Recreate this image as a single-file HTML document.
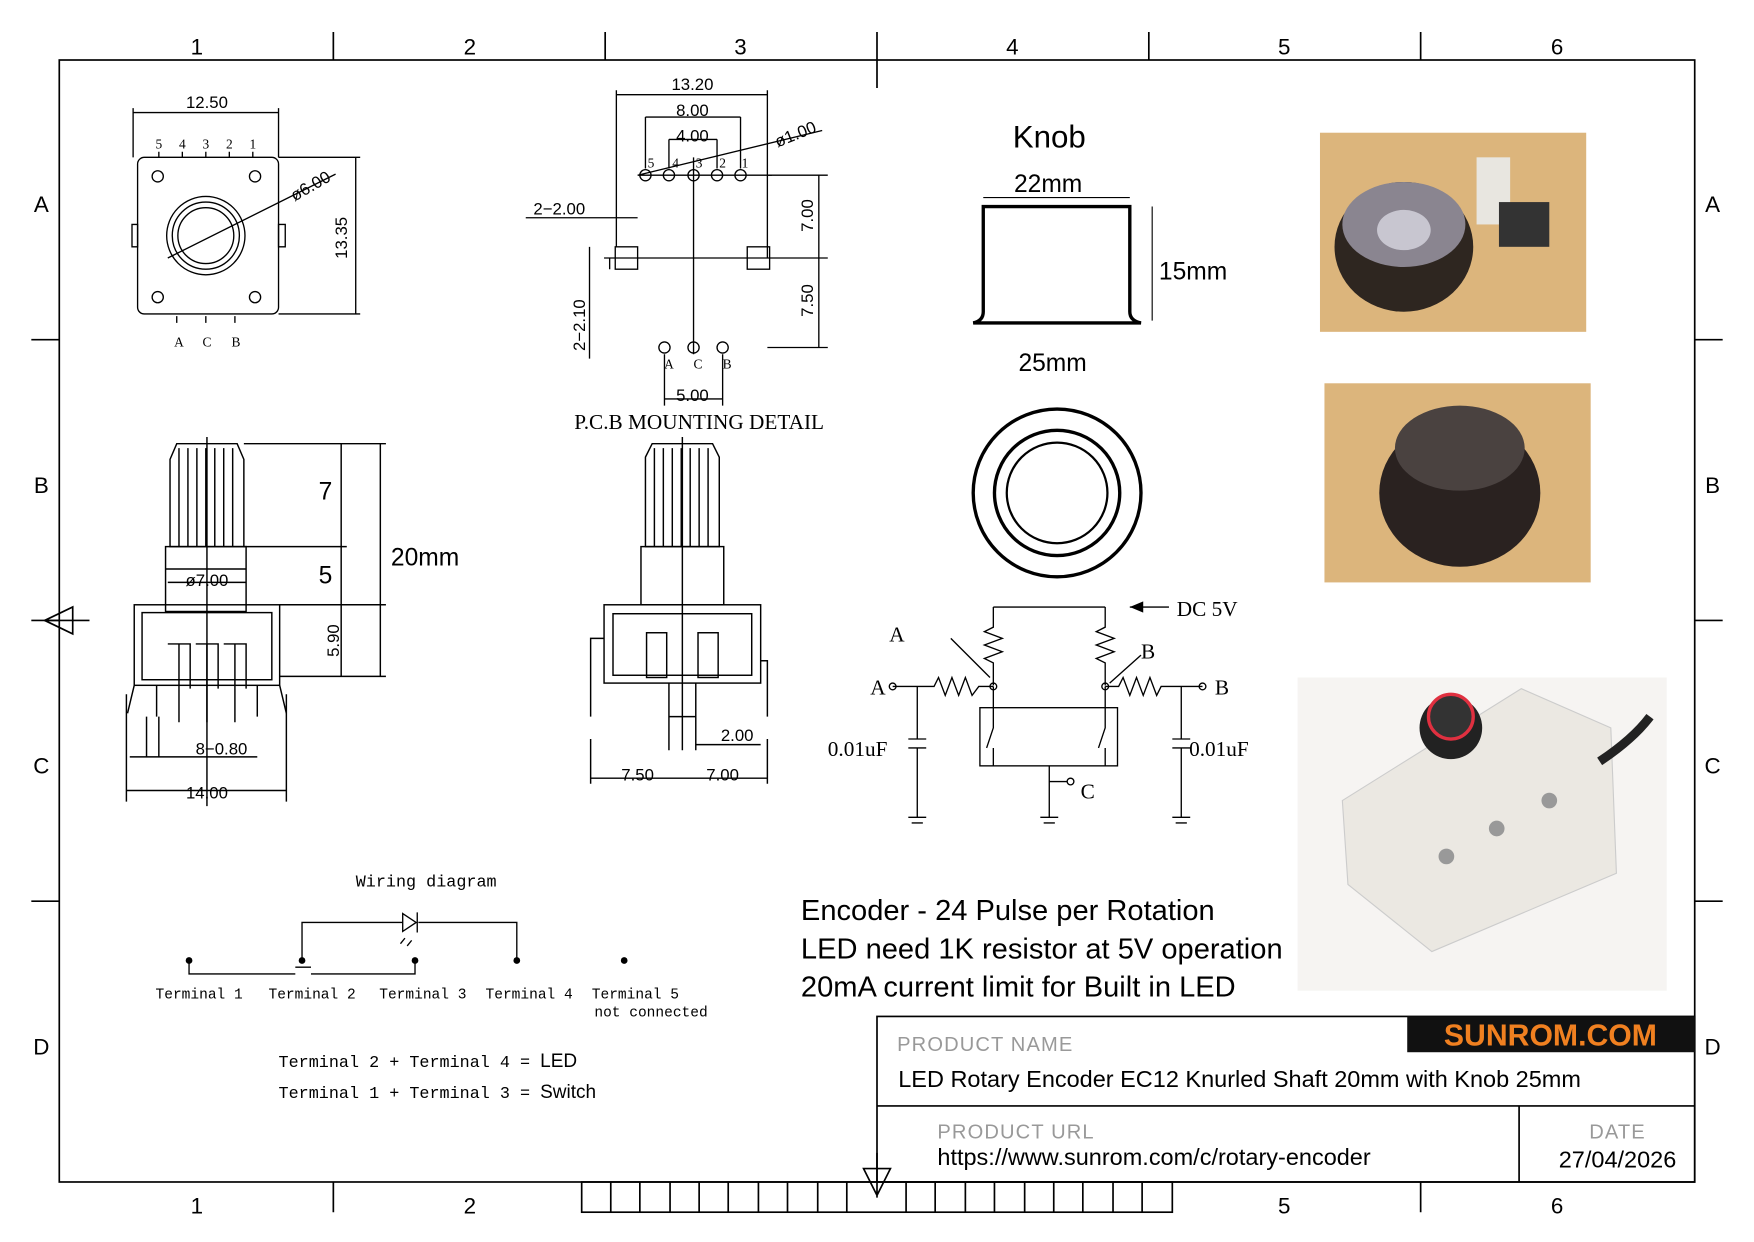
<!DOCTYPE html>
<html><head><meta charset="utf-8"><style>
html,body{margin:0;padding:0;background:#fff}
svg{display:block}
.s{font-family:"Liberation Sans",sans-serif}
.m{font-family:"Liberation Serif",serif}
.mo{font-family:"Liberation Mono",monospace}
</style></head><body>
<svg width="1754" height="1242" viewBox="0 0 1568 1109" xmlns="http://www.w3.org/2000/svg">
<rect width="1568" height="1109" fill="#fff"/>
<g stroke="#000" stroke-width="1.5" fill="none">
<rect x="53" y="53" width="1462" height="1003"/>
<path d="M298,28V53M541,28V53M784,28V78M1027,28V53M1270,28V53M298,1056V1083M1270,1056V1083M28,303H53M28,554H53M28,805H53M1515,303H1540M1515,554H1540M1515,805H1540"/>
<path d="M40,554L65,542V566z M40,554H80"/>
<path d="M772,1044L784,1068L796,1044z M784,1030V1070"/>
<rect x="520" y="1056" width="528" height="27"/>
<path d="M546,1056v27M572,1056v27M599,1056v27M625,1056v27M651,1056v27M678,1056v27M704,1056v27M731,1056v27M757,1056v27M810,1056v27M836,1056v27M863,1056v27M889,1056v27M916,1056v27M942,1056v27M968,1056v27M995,1056v27M1021,1056v27"/>
<rect x="784" y="908" width="731" height="148"/>
<path d="M784,988H1515M1358,988V1056"/>
</g>
<g class="s" font-size="20" text-anchor="middle">
<text x="176" y="48">1</text><text x="420" y="48">2</text><text x="662" y="48">3</text><text x="905" y="48">4</text><text x="1148" y="48">5</text><text x="1392" y="48">6</text>
<text x="176" y="1084">1</text><text x="420" y="1084">2</text><text x="1148" y="1084">5</text><text x="1392" y="1084">6</text>
<text x="37" y="189">A</text><text x="37" y="440">B</text><text x="37" y="691">C</text><text x="37" y="942">D</text>
<text x="1531" y="189">A</text><text x="1531" y="440">B</text><text x="1531" y="691">C</text><text x="1531" y="942">D</text>
</g>
<rect x="1258" y="908" width="257" height="32" fill="#111"/>
<text x="1386" y="934" class="s" font-size="27" font-weight="bold" fill="#f08020" text-anchor="middle">SUNROM.COM</text>
<text x="802" y="939" class="s" font-size="18" fill="#999" letter-spacing="1">PRODUCT NAME</text>
<text x="803" y="971" class="s" font-size="21">LED Rotary Encoder EC12 Knurled Shaft 20mm with Knob 25mm</text>
<text x="838" y="1017" class="s" font-size="18" fill="#999" letter-spacing="1">PRODUCT URL</text>
<text x="838" y="1041" class="s" font-size="21">https://www.sunrom.com/c/rotary-encoder</text>
<text x="1446" y="1017" class="s" font-size="18" fill="#999" text-anchor="middle" letter-spacing="1">DATE</text>
<text x="1446" y="1043" class="s" font-size="21" text-anchor="middle">27/04/2026</text>
<g class="s" font-size="26"><text x="716" y="822">Encoder - 24 Pulse per Rotation</text><text x="716" y="856">LED need 1K resistor at 5V operation</text><text x="716" y="890">20mA current limit for Built in LED</text></g>
<rect x="1180" y="118" width="238" height="178" fill="#dcb57c"/>
<ellipse cx="1255" cy="220" rx="62" ry="58" fill="#2e2620"/><ellipse cx="1255" cy="200" rx="55" ry="38" fill="#8a8590"/><ellipse cx="1255" cy="205" rx="24" ry="18" fill="#c8c6d0"/>
<rect x="1320" y="140" width="30" height="60" fill="#e8e6e0"/><rect x="1340" y="180" width="45" height="40" fill="#333"/>
<rect x="1184" y="342" width="238" height="178" fill="#dcb57c"/>
<ellipse cx="1305" cy="440" rx="72" ry="66" fill="#2a2220"/><ellipse cx="1305" cy="400" rx="58" ry="38" fill="#4a4240"/>
<rect x="1160" y="605" width="330" height="280" fill="#f6f4f2"/>
<path d="M1200,715L1360,615L1440,650L1445,780L1280,850L1205,790z" fill="#ebe8e2" stroke="#ccc"/>
<circle cx="1297" cy="650" r="28" fill="#222"/><circle cx="1297" cy="640" r="20" fill="#333" stroke="#e03040" stroke-width="3"/>
<path d="M1430,680Q1460,660 1475,640" stroke="#222" stroke-width="8" fill="none"/>
<circle cx="1293" cy="765" r="7" fill="#999"/><circle cx="1338" cy="740" r="7" fill="#999"/><circle cx="1385" cy="715" r="7" fill="#999"/>
<text x="938" y="131" class="s" font-size="28" text-anchor="middle">Knob</text>
<text x="937" y="171" class="s" font-size="22" text-anchor="middle">22mm</text>
<text x="1036" y="249" class="s" font-size="22">15mm</text>
<text x="941" y="331" class="s" font-size="22" text-anchor="middle">25mm</text>
<g stroke="#000" fill="none">
<path d="M879,184H1010V278Q1010,286 1020,288H870Q879,286 879,278z" stroke-width="3"/>
<path d="M879,176H1010M1030,184V286" stroke-width="1"/>
<circle cx="945" cy="440" r="75" stroke-width="3"/><circle cx="945" cy="440" r="56" stroke-width="3"/><circle cx="945" cy="440" r="45" stroke-width="2"/>
</g>
<g stroke="#000" fill="none" stroke-width="1.2">
<rect x="123" y="140" width="126" height="140" rx="6"/>
<circle cx="184" cy="210" r="35"/><circle cx="184" cy="210" r="30"/><circle cx="184" cy="210" r="25"/>
<circle cx="141" cy="157" r="5"/><circle cx="228" cy="157" r="5"/><circle cx="141" cy="265" r="5"/><circle cx="228" cy="265" r="5"/>
<path d="M118,200h5v20h-5zM249,200h6v20h-6z"/>
<path d="M119,96V140M249,96V140M119,100H249M249,140H322M249,280H322M318,140V280M150,230L300,155"/>
<path d="M142,135v5M163,135v5M184,135v5M205,135v5M226,135v5M158,282v6M184,282v6M210,282v6"/>
</g>
<g class="s" font-size="15" text-anchor="middle"><text x="185" y="96">12.50</text></g>
<text x="310" y="212" class="s" font-size="15" transform="rotate(-90 310 212)" text-anchor="middle">13.35</text>
<text x="280" y="170" class="s" font-size="15" transform="rotate(-30 280 170)" text-anchor="middle">ø6.00</text>
<g class="m" font-size="12" text-anchor="middle"><text x="142" y="132">5</text><text x="163" y="132">4</text><text x="184" y="132">3</text><text x="205" y="132">2</text><text x="226" y="132">1</text><text x="160" y="309">A</text><text x="185" y="309">C</text><text x="211" y="309">B</text></g>
<g stroke="#000" fill="none" stroke-width="1.2">
<path d="M551,80V220M686,80V230M551,84H686M577,104H662M598,124H641M577,104V150M662,104V150M598,124V150M641,124V150"/>
<circle cx="577" cy="156" r="5"/><circle cx="598" cy="156" r="5"/><circle cx="620" cy="156" r="5"/><circle cx="641" cy="156" r="5"/><circle cx="662" cy="156" r="5"/>
<path d="M570,156H690M620,140V316M540,230H740M570,156L735,116"/>
<rect x="550" y="220" width="20" height="20"/><rect x="668" y="220" width="20" height="20"/>
<circle cx="594" cy="310" r="5"/><circle cx="620" cy="310" r="5"/><circle cx="646" cy="310" r="5"/>
<path d="M686,156H740M686,310H740M732,156V310M594,316V362M646,316V362M594,356H646M470,194H570M527,220V320M545,230V240"/>
</g>
<g class="s" font-size="15" text-anchor="middle"><text x="619" y="80">13.20</text><text x="619" y="103">8.00</text><text x="619" y="126">4.00</text><text x="500" y="191">2−2.00</text><text x="619" y="358">5.00</text></g>
<text x="727" y="192" class="s" font-size="15" transform="rotate(-90 727 192)" text-anchor="middle">7.00</text>
<text x="727" y="268" class="s" font-size="15" transform="rotate(-90 727 268)" text-anchor="middle">7.50</text>
<text x="523" y="290" class="s" font-size="15" transform="rotate(-90 523 290)" text-anchor="middle">2−2.10</text>
<text x="713" y="124" class="s" font-size="15" transform="rotate(-22 713 124)" text-anchor="middle">ø1.00</text>
<g class="m" font-size="12" text-anchor="middle"><text x="582" y="149">5</text><text x="604" y="149">4</text><text x="625" y="149">3</text><text x="646" y="149">2</text><text x="666" y="149">1</text><text x="598" y="329">A</text><text x="624" y="329">C</text><text x="650" y="329">B</text></g>
<text x="625" y="383" class="m" font-size="19" text-anchor="middle">P.C.B MOUNTING DETAIL</text>
<g stroke="#000" fill="none" stroke-width="1.3">
<path d="M152,410L158,396H212L218,410V488H152z"/>
<path d="M160,400v88M168,400v88M176,400v88M184,400v88M192,400v88M200,400v88M208,400v88"/>
<rect x="148" y="488" width="72" height="58"/><path d="M148,508H220"/>
<rect x="120" y="540" width="130" height="72"/><rect x="127" y="547" width="116" height="60"/>
<path d="M140,612v28M160,575v70M185,575v70M210,575v70M230,612v28M150,575h20v40M175,575h20v40M200,575h20v40M120,612l-6,25M250,612l6,25"/>
<path d="M185,390V720M218,396H345M218,488H310M250,540H345M250,604H345M340,396V604M305,396V488M305,488V540M305,540V604"/>
<path d="M113,620V716M256,620V716M113,706H256M131,640V676M142,640V676M116,676H230M150,520H220"/>
</g>
<g class="s" text-anchor="middle"><text x="291" y="446" font-size="22">7</text><text x="291" y="521" font-size="22">5</text><text x="380" y="505" font-size="22">20mm</text><text x="185" y="523" font-size="15">ø7.00</text><text x="198" y="674" font-size="15">8−0.80</text><text x="185" y="713" font-size="15">14.00</text></g>
<text x="303" y="572" class="s" font-size="15" transform="rotate(-90 303 572)" text-anchor="middle">5.90</text>
<g stroke="#000" fill="none" stroke-width="1.3">
<path d="M577,408L583,396H637L643,408V488H577z"/>
<path d="M585,400v88M593,400v88M601,400v88M609,400v88M617,400v88M625,400v88M633,400v88"/>
<rect x="573" y="488" width="74" height="52"/>
<rect x="540" y="540" width="140" height="70"/><rect x="548" y="548" width="124" height="55"/>
<rect x="578" y="565" width="18" height="40"/><rect x="624" y="565" width="18" height="40"/>
<path d="M540,570h-12v70M680,590h6v50M598,610v30h24v-30M610,390V670M528,660V700M686,660V700M598,640V670M622,640V670M528,695H686M622,665H680"/>
</g>
<g class="s" font-size="15" text-anchor="middle"><text x="570" y="697">7.50</text><text x="646" y="697">7.00</text><text x="659" y="662">2.00</text></g>
<g stroke="#000" fill="none" stroke-width="1.2">
<path d="M888,542H988M1010,542H1045M888,542V560l-8,4 16,6-16,6 16,6-16,6 8,4V612M988,542V560l-8,4 16,6-16,6 16,6-16,6 8,4V612"/>
<path d="M798,613H835l4,-8 6,16 6,-16 6,16 6,-16 6,16 6,-8H888M988,613H1000l4,-8 6,16 6,-16 6,16 6,-16 6,16 4,-8H1075"/>
<circle cx="798" cy="613" r="3"/><circle cx="1075" cy="613" r="3"/><circle cx="888" cy="613" r="3"/><circle cx="988" cy="613" r="3"/>
<path d="M850,570L885,605M1020,585L992,610"/>
<path d="M820,613V660M812,660h16M812,668h16M820,668V730M812,730h16M815,735h10M1056,613V660M1048,660h16M1048,668h16M1056,668V730M1048,730h16M1051,735h10"/>
<rect x="876" y="632" width="123" height="52"/>
<path d="M888,613V650l-6,18M888,668V684M988,613V650l-6,18M988,668V684M938,684V730M930,730h16M933,735h10M938,698h16"/><circle cx="957" cy="698" r="3"/>
</g>
<path d="M1010,542L1022,537V547z" fill="#000"/>
<g class="m" font-size="19"><text x="1052" y="550">DC 5V</text><text x="795" y="573">A</text><text x="778" y="620">A</text><text x="1020" y="588">B</text><text x="1086" y="620">B</text><text x="740" y="675">0.01uF</text><text x="1063" y="675">0.01uF</text><text x="966" y="713">C</text></g>
<text x="381" y="792" class="mo" font-size="15" text-anchor="middle">Wiring diagram</text>
<g stroke="#000" fill="none" stroke-width="1.2">
<path d="M169,858V870H264M264,864H278M278,870H371V858M270,858V824H360M374,824H462V858"/>
<path d="M360,816L372,824L360,832z M373,815V833M362,838l-4,5M368,840l-4,5"/>
</g>
<g fill="#000"><circle cx="169" cy="858" r="3"/><circle cx="270" cy="858" r="3"/><circle cx="371" cy="858" r="3"/><circle cx="462" cy="858" r="3"/><circle cx="558" cy="858" r="3"/></g>
<g class="mo" font-size="13" text-anchor="middle"><text x="178" y="892">Terminal 1</text><text x="279" y="892">Terminal 2</text><text x="378" y="892">Terminal 3</text><text x="473" y="892">Terminal 4</text><text x="568" y="892">Terminal 5</text><text x="582" y="908">not connected</text></g>
<g font-size="15"><text x="249" y="953" class="mo">Terminal 2 + Terminal 4 = <tspan class="s" font-size="17">LED</tspan></text><text x="249" y="981" class="mo">Terminal 1 + Terminal 3 = <tspan class="s" font-size="17">Switch</tspan></text></g>
</svg>
</body></html>
